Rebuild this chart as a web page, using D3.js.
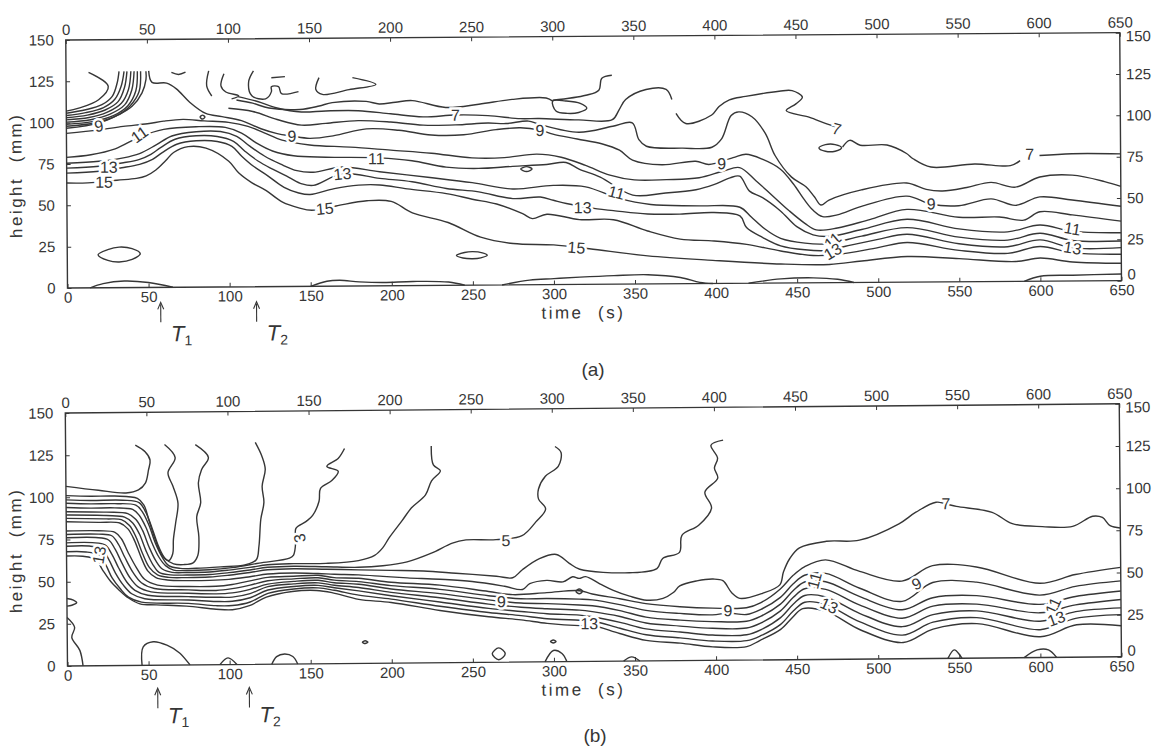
<!DOCTYPE html>
<html>
<head>
<meta charset="utf-8">
<script src="https://cdn.jsdelivr.net/npm/d3@7"></script>
<style>
body{margin:0;background:#fff;}
svg text{font-family:"Liberation Sans",Arial,sans-serif;fill:#363636;}
</style>
</head>
<body>
<script>
// ---------- axes ----------
const xTicks=[0,50,100,150,200,250,300,350,400,450,500,550,600,650];
const yTicks=[0,25,50,75,100,125,150];

// ---------- panel (a) contour lines: [time s, height mm] ----------
const a15=[[0,63.5],[13,63.5],[31,65],[43,66],[49,67.5],[55,71],[61,76.5],[66,81.5],[75,85],[86,84],[100,76],[106,69],[114,63],[123,58],[133,51],[143,47.5],[151,46],[166,48.5],[185,51.5],[200,51],[213,44],[235,38],[255,29],[275,25],[300,24],[322,21.5],[358,17],[398,14],[440,11.5],[470,11],[490,13],[518,15.5],[550,14],[585,12],[600,14],[620,11.5],[650,10.5]];
const a14=[[0,69.5],[20,70.5],[34,72.5],[45,74.5],[53,77.5],[59,81.5],[68,86.5],[80,88.5],[93,88],[102,85],[108,79],[115,73],[124,67],[134,60],[143,56.5],[150,55.5],[165,59],[180,61],[193,61],[210,58.5],[234,55.5],[250,52],[265,49],[281,43],[287,40],[296,42.6],[316,39.2],[337,39],[358,32],[378,27],[399,25.7],[419,23.5],[440,19.4],[460,16.5],[475,17],[500,21],[518,24],[550,19],[580,17],[600,21],[620,17],[650,16]];
const a13=[[0,72.5],[20,73.5],[35,75.5],[45,77.5],[52,80.5],[58,84.5],[67,89.5],[80,91.5],[93,91],[103,88],[110,82],[118,76],[127,71],[137,66],[145,62],[152,61],[170,68],[193,65],[213,62.8],[234,58.6],[254,56.4],[275,52.2],[292,53],[300,51],[308,49],[327,45.6],[337,44.5],[358,42.3],[378,42.1],[399,42.9],[415,40.8],[419,33.7],[429,27.6],[440,22.5],[455,20],[468,19.5],[480,22],[500,26],[518,29],[550,23],[580,21],[600,25],[620,20],[650,20]];
const a12=[[0,75.5],[20,76.5],[35,78.5],[45,81],[55,86],[65,91.5],[80,94],[95,94],[105,91],[113,85],[122,79],[132,74],[142,70],[152,69],[170,72],[193,69],[224,65.3],[250,62],[275,58],[300,60],[320,59],[340,52],[360,48],[390,47],[415,46],[422,40],[430,33],[440,27],[455,24],[468,23.5],[490,28],[518,33],[550,27],[580,25],[600,29],[620,24.5],[650,24]];
const a11=[[0,79],[15,80.5],[30,84],[45,91],[60,95.5],[80,97],[98,96.5],[108,93],[117,87],[127,82],[140,79],[160,78],[193,77.4],[213,75.5],[234,71.5],[254,70.6],[275,71.7],[296,72.7],[308,73.8],[316,69.8],[329,64.8],[349,53.8],[368,54.8],[388,56.8],[399,59.8],[409,63.8],[415,64.8],[421,55.7],[429,51.7],[440,43.6],[450,34],[460,29],[470,28],[490,32],[518,38],[550,32],[580,30],[600,34],[620,30],[650,29]];
const a10=[[0,93.5],[20,95.5],[35,97.5],[50,99],[60,100.5],[72,101.5],[85,100.5],[100,99.5],[112,97],[122,93],[133,88.5],[150,85.5],[175,84],[200,82],[225,80],[250,77],[270,77],[290,79],[305,77],[320,72],[335,66],[350,63],[370,63],[390,64],[405,68],[415,70],[425,62],[435,53],[445,44],[455,36],[462,32],[475,33],[495,38],[518,44],[550,39],[575,39],[590,37],[600,42],[620,40],[650,36]];
const a9=[[51,131],[53,124],[62,123.5],[68,120],[76,112],[86,105],[96,103],[108,100.5],[120,95.5],[130,92.5],[139,91],[150,89.5],[165,91],[185,95],[205,94],[225,91],[245,91],[265,94],[280,95],[292,93.5],[300,91],[315,88],[330,85],[341,81],[349,75],[367,72],[388,74],[396,72],[411,76],[419,78],[429,75],[440,69],[448,60],[455,50],[460,44],[466,40],[475,41],[490,46],[518,52],[533,47],[550,46],[570,50],[585,46],[600,51],[620,49],[650,45]];
const a8=[[100,108],[115,106],[130,101],[145,97.5],[160,98.5],[180,100],[200,99],[220,97],[240,97],[260,98],[271,97.6],[285,99],[291.6,97],[316,92],[337,95.5],[349,97.5],[353,87.3],[357.6,83.3],[380,82],[398,82.4],[404,87.4],[410,101.5],[414.7,103.7],[422.8,100.7],[431,90.6],[437,77],[447,64],[456,58],[461,52],[465,47],[470,50],[490,56],[518,60],[530,56],[540,55],[555,57],[570,60],[585,57],[600,63],[620,64],[640,60],[650,57]];
const a7=[[106,115],[118,112],[130,108],[145,105.5],[160,106],[180,106],[200,104],[220,102],[240,103],[260,102.5],[280,100.5],[291.6,100.5],[316,99.5],[336.7,99.5],[341,105.6],[345,111.6],[357.6,117.6],[370,117.6],[373.5,111.5]];
const a7b=[[376,103],[382,96.9],[398,101.9],[402.6,107],[409,111],[419,113],[439.7,116],[447.7,116.3],[454,112.3],[450,108.3],[444,104.2],[458,100.2],[468.5,96.2],[475,94]];
const a7c=[[478.6,82],[483,86],[489.5,83],[506,83],[518,77.8],[522,74.6],[533,69.5],[560,71.2],[582,70],[588,73]];
const a7d=[[600,76],[620,77],[650,76.7]];
const a6=[[105,113],[115,111],[125,108],[144,107],[156,109],[164,111],[185,111.6],[193,110],[203,111],[213.5,111.9],[234,107.6],[254.5,109.4],[275,112.2],[296,112.9],[300,111]];
// fan of lines in the upper left corner
const f1=[[0,105.7],[12,107.7],[22,110.7],[28.4,115.7],[31.5,123.8],[32.7,130.8]];
const f2=[[0,104.3],[12,106],[23,109],[30,114],[34,122],[35.8,130.8]];
const f3=[[0,103],[13,104.5],[24,107.5],[32,112.5],[36,121],[37.6,130.8]];
const f4=[[0,101.7],[14,103],[25,106],[34,111.5],[38.5,120],[40,130.8]];
const f5=[[0,100.3],[15,101.7],[27,105],[36,110.5],[40.5,119.5],[42,130.8]];
const f6=[[0,99],[16,100.5],[29,104],[38,110],[43,119],[44,130.8]];
const f7=[[0,97.8],[18,99.8],[31,104],[39.5,110],[45,118.5],[46,130.8]];
const f8=[[0,96.6],[20,99.6],[32.4,104.6],[40.6,109.6],[46.8,117.7],[49.3,125.8],[49.3,130.8]];
const f0=[[0,107],[7.7,108.7],[20,113.7],[26,121.8],[13.9,130.3]];
// short pieces near the top
const t1=[[65,130],[69.4,128.7],[73.7,130]];
const t2=[[88,130.7],[86.7,121.6],[89.8,115.5]];
const t3=[[97.4,128.9],[95.5,121.6],[98.5,117.9],[106.4,115.5],[102,113.7]];
const t4=[[115.6,130.6],[112.6,124],[114.5,115.5],[123,113.6],[126.6,117.9],[126.6,120.9],[131,120.9],[132.8,116.7],[143.3,117.8]];
const t5=[[126.6,126.3],[135,126.9]];
const t6=[[156,126.2],[154,119],[158,116],[174.5,118.8],[191,121.8],[176.6,126]];
const t7=[[336.6,126.4],[330.4,124.6],[328.5,117.4],[320.5,114.4],[300,111.5]];
// lines hugging the bottom
const a16a=[[14,0],[22,2.5],[35,4],[50,3],[65,0]];
const a16b=[[150,0],[160,3],[168,3.5],[180,2.5],[195,2],[213,2.5],[235,2],[245,0]];
const a16c=[[268,0],[285,2.8],[300,3.6],[316,4.4],[337,5.2],[358,5.6],[378,3.8],[390,0.7],[398,0]];
const a16d=[[420,0],[440,2.5],[460,3],[475,2],[485,0]];
const a16e=[[590,0],[600,3],[620,3.5],[650,4]];
// closed loops
const aLoops=[
  [[19,20],[25,23],[32,24.5],[40,23.5],[45,20.5],[40,17],[32,15.5],[25,16.5]],
  [[240,18],[245,19.8],[250,20.3],[256,19.5],[259,18],[255,16.5],[250,16],[244,16.5]],
  [[82.5,102.8],[84,104],[85.5,102.8],[84,101.6]],
  [[280,70],[283.6,71.5],[287,70],[283.6,68.5]],
  [[464,81.5],[468,83.5],[474,83.5],[478,81.5],[474,79.5],[468,79.5]],
  [[300,111],[302,105],[309,103.5],[316,104],[321,106.5],[317,109.5],[308,111]]
];
// contour labels: [text, time, height, angle]
const aLabels=[["9",20,98,-10],["11",45,92.6,-35],["9",139,91,0],["7",240,103,0],["9",292,93.5,0],["7",475,93,15],["7",594,77,0],
  ["13",26,73,0],["15",23,64,0],["11",191,77,0],["13",170,68,-5],["15",159,47,-5],["9",404,72.6,0],["11",339,55.5,15],
  ["13",318,46.5,0],["15",314,22.4,5],["9",533,47.4,0],["11",472,25.4,-40],["13",472,19,-30],["11",620,31.7,10],["13",620,20,10]];
const aMarks=[[57.4,"1"],[116.5,"2"]];

// ---------- panel (b) ----------
const b1=[[43,130.6],[49,126.6],[52,121.7],[51,115.8],[49,108],[44.7,104],[37,102.3],[20,104],[0,106.5]];
const b2=[[61,130.8],[67.5,123],[63,114],[66,106],[69,96],[67.5,84.5],[66,74.5],[65.5,66],[63,62],[59,65],[55,74],[51,86],[48,95],[44,99],[30,100.5],[15,100.5],[0,101]];
const b3=[[80,130.6],[88,123],[83.7,115.7],[81.7,108],[83,96],[80.5,87.8],[81.7,76],[81,65],[78,60.5],[72,59.5],[66,60],[61,63],[57,70],[53,81],[49,91],[45,96.5],[35,98],[15,98],[0,98.5]];
const b4=[[117,131.6],[121,123.4],[123,115.7],[121,105.6],[122,96],[120,86],[118.7,70],[117,62],[110,59],[95,58],[80,57.3],[70,57.3],[63,59],[59,64],[55,72],[51,83],[47,91],[43,95],[30,96],[15,96],[0,96.5]];
const b5=[[172,127.5],[168,121.6],[161,117],[168,114],[164,108.6],[157,104],[156,96.4],[152,88],[148,84.5],[141.6,80.4],[141.5,73.5],[140,64.6],[137.5,62.8],[118.7,60],[102,57.5],[88,56.3],[74,56],[66,56.3],[61,59],[57,64],[53,72],[49,82],[45,89],[41,92.5],[30,93.5],[15,93.5],[0,94]];
const b6=[[225.5,128.6],[226.7,117.3],[231,113.8],[225.5,107.9],[221.7,99.6],[213,92],[207,84.3],[199,74.3],[195,68.4],[190,64],[180,61],[160,59.5],[140,59.5],[124,59],[113,57.5],[100,56],[88,55],[74,54.8],[65,55],[59,57],[55,62],[51,70],[47,80],[43,86.5],[38,90],[25,91],[0,91.5]];
const b7=[[301.8,127.6],[305.5,124],[303.7,115.8],[295.7,110],[291.4,102.5],[291.4,96.5],[295.7,90.6],[289.6,83],[281,74.9],[265,72.7],[246.4,72.7],[238,70.9],[225,65],[210,60],[195,57.8],[180,57],[160,57.5],[140,58],[124,57.5],[113,56],[100,54.5],[88,53.5],[74,53.3],[64,53.5],[57,55],[53,60],[49,68],[45,78],[41,84.5],[36,88],[25,89],[0,89.5]];
const b8=[[405.5,130.5],[398,127.6],[402,119.9],[400,114],[402,108],[394,99.8],[398,90.3],[390,80.2],[379.6,74.3],[378,64.2],[367.6,60.7],[364,54.7],[347,52.4],[316.4,54.7],[310,58.3],[302,63.6],[291.6,61.2],[281,54.7],[275,50],[265,51],[240,53],[220,54.5],[200,55],[180,55.5],[160,56],[140,56.5],[124,56],[113,54.5],[100,53],[88,52],[74,51.8],[63,52],[56,53.5],[51,58],[47,66],[43,76],[39,83],[34,86.5],[25,87],[0,87.5]];
const b9=[[650,76.4],[643.7,77.8],[639,82.7],[633,83.5],[620.6,77.6],[602,77.6],[583.4,79.5],[571,86.3],[549,90],[542.6,91.5],[536.5,92.6],[524,86.8],[513.5,80],[489,70.5],[468.7,70],[452,66.3],[446,60],[442,52],[439.7,44.4],[429,39.5],[415,36.6],[410,40],[404.6,47.2],[398.6,48.2],[388.6,47.2],[378,44.3],[374,40.4],[367.6,37],[357.6,36],[347,38.5],[337,42],[328.7,46],[320,50.3],[316,49.3],[312,50.3],[306,47.3],[296,48.3],[285.5,46.4],[281,43],[270,45],[250,48],[230,49.5],[210,50.5],[195,51.5],[180,52.5],[165,53],[155,53.5],[140,54],[124,53.5],[113,52],[100,50.5],[88,50],[74,50],[62,50.5],[55,52],[50,56],[46,64],[42,74],[38,81],[33,84.5],[20,85],[0,85.5]];
const L8=[[0,80],[20,80],[30,79],[34,75],[38,67],[43,58],[48,51],[56,47.5],[75,46.5],[92,46.5],[102,47.5],[113,49.5],[124,51.5],[140,52],[155,52.5],[165,51],[180,50.5],[200,48],[230,46],[260,42],[275,40],[296,41],[316,42],[324,40],[341,37],[357,34],[378,32],[398,31],[419,31],[428,34],[440,42],[448,50],[455,55],[468,59],[489,52],[515,46],[534,55],[561,54],[600,44],[622,49],[650,53]];
const L9=[[0,78],[20,78],[28,77],[32,72],[36,64],[41,55],[46,49],[54,45.5],[75,44.5],[92,44],[102,45],[113,47],[124,49.5],[140,50.5],[155,51],[165,49.5],[180,48.5],[200,46],[230,43.5],[260,39.5],[280,37.5],[296,37.5],[316,37],[324,36.5],[341,33.5],[357,30],[378,28],[398,27],[408,28],[419,27],[428,30],[440,37],[448,45],[455,50],[468,51],[489,42],[515,34],[534,45],[561,45],[600,37],[622,42],[650,45]];
const L10=[[0,76],[18,76],[26,74.5],[30,69],[34,61],[39,52],[44,46.5],[52,43.5],[75,42.5],[92,42],[102,42.5],[113,44.5],[124,47.5],[140,49],[155,49.5],[165,48],[180,47],[200,44],[230,41],[260,37],[280,35],[296,34.5],[316,33.5],[324,33],[341,30],[357,26],[378,24],[398,23],[419,23],[428,26],[440,33],[448,41],[455,46],[468,46],[489,37],[515,29],[534,36],[561,37],[600,31.5],[622,36],[650,39]];
const L11=[[0,73],[16,73],[24,71.5],[28,66],[32,58],[37,49.5],[42,44.5],[50,41.5],[75,40.5],[92,40],[102,40],[113,42],[124,46],[140,47.5],[155,48],[165,46.5],[180,45],[200,42],[230,38.5],[260,34.5],[280,32.5],[296,31.5],[316,30.5],[324,29.5],[341,26.5],[357,22.5],[378,20.5],[398,19],[419,19],[428,22],[440,29],[448,37],[455,42],[468,41.5],[489,32],[515,24],[534,31],[561,32],[600,26.5],[622,31],[650,34]];
const L12=[[0,71],[14,71],[22,69],[26,63],[30,55],[35,47.5],[40,42.5],[48,39.5],[75,38.5],[92,37.5],[102,37.5],[113,39.5],[124,44],[140,46],[155,46.5],[165,45],[180,43],[200,40],[230,36],[260,32],[280,30],[296,28.5],[316,27.5],[324,26.5],[341,23],[357,19],[378,17],[398,15],[419,15],[428,18],[440,25],[448,33],[455,38],[468,37],[489,27],[515,19],[534,26],[561,28],[600,21.5],[622,27],[650,29]];
const L13=[[0,67.7],[12,67.5],[20,65.5],[24,60],[28,52],[33,45.5],[38,40.5],[46,37.5],[75,36.5],[92,35],[102,35],[113,37],[124,42],[140,44.5],[155,45],[165,43.5],[180,40.5],[200,38],[230,33.5],[260,29.5],[280,27.5],[296,25.5],[316,24.5],[324,24],[341,19.5],[357,15.5],[378,13.5],[398,11.5],[419,11.5],[428,14.5],[440,21],[448,29],[455,34],[468,32.5],[489,22],[515,14],[534,21.5],[561,24],[600,16.5],[622,23],[650,25]];
const L14=[[0,65.2],[10,65],[18,63],[22,57],[27,50],[32,45],[38,40],[45,36.5],[55.2,35.8],[73.7,34.9],[92,32.9],[102,32.5],[112.5,34.8],[123,39.8],[139,43],[154,43.5],[164,42],[180,38],[200,36],[230,31],[260,27],[280,25],[296,22.8],[316,21.3],[324,21.3],[340.7,16.4],[357,12.2],[378,10.4],[398,8],[419,8],[427,11.5],[440,18],[447.6,25.3],[453.7,30.2],[468.5,28.3],[489,17.4],[515.5,9.6],[534,17.4],[561,20.4],[600,12.3],[622.5,19.2],[650,18.4]];
// small pieces near the bottom and left edge
const s1=[[0,40],[4,39],[6,37.5],[3,36],[0,35.5]];
const s2=[[0,28.7],[4.6,22.8],[2.8,17],[7.7,9.2],[9.6,0]];
const s3=[[46,0],[46.8,11],[53,13.9],[61.4,11.8],[69.4,7],[75.6,0]];
const s4=[[94,0],[99,4],[104.5,0]];
const s5=[[126,0],[129,4.5],[134,6],[139,4.5],[142,0]];
const s6=[[294.5,0],[299.7,6.7],[305,4.9],[308,0]];
const s7=[[343,0],[348,2.5],[353,0]];
const s8=[[543,0],[547,5],[551.6,0]];
const s9=[[590,0],[598,4.5],[605,4.5],[610,0]];
const bLoops=[
  [[262,5],[266,8.5],[270,5],[266,1.5]],
  [[182,12.6],[183.7,13.4],[185.4,12.6],[183.7,11.8]],
  [[298,12],[299.7,12.9],[301.4,12],[299.7,11.1]],
  [[314,41.6],[316,43],[318,41.6],[316,40.2]]
];
const bLabels=[["3",143.7,74.6,-100],["5",271,72.2,0],["7",542.6,91.8,0],["9",524,44.4,-25],["11",461,46.8,-75],["13",470,32,25],
  ["11",608,30.6,-65],["13",610,23,-20],["9",407.6,29.5,0],["13",20,65.6,-80],["13",322,22.5,0],["9",268,36,0]];
const bMarks=[[55.5,"1"],[112,"2"]];

// ---------- drawing ----------
const svg=d3.select("body").append("svg").attr("width",1158).attr("height",746);
const ink="#363636";
const x=d3.scaleLinear().domain([0,650]).range([0,1054]);

function drawPanel(p){
  const y=d3.scaleLinear().domain([0,150]).range([p.h,0]);
  const g=svg.append("g").attr("transform",`translate(${p.left},${p.top}) rotate(${p.rot},0,${p.h})`);
  const line=d3.line().x(d=>x(d[0])).y(d=>y(d[1])).curve(d3.curveCatmullRom.alpha(0.5));
  const loop=d3.line().x(d=>x(d[0])).y(d=>y(d[1])).curve(d3.curveCatmullRomClosed.alpha(0.5));

  g.selectAll("path.c").data(p.lines).enter().append("path").attr("class","c")
    .attr("d",line).attr("fill","none").attr("stroke",ink).attr("stroke-width",1.4);
  g.selectAll("path.o").data(p.loops).enter().append("path").attr("class","o")
    .attr("d",loop).attr("fill","none").attr("stroke",ink).attr("stroke-width",1.4);

  g.selectAll("text.lab").data(p.labels).enter().append("text").attr("class","lab")
    .attr("transform",d=>`translate(${x(d[1])},${y(d[2])}) rotate(${d[3]})`)
    .attr("text-anchor","middle").attr("dy","0.36em").attr("font-size",16)
    .attr("stroke","#fff").attr("stroke-width",5).attr("paint-order","stroke").text(d=>d[0]);

  // frame
  g.append("rect").attr("width",1054).attr("height",p.h).attr("fill","none").attr("stroke",ink).attr("stroke-width",1.4);

  const style=s=>s.attr("font-size",15).attr("font-family","Liberation Sans, Arial, sans-serif").attr("color",ink)
    .call(a=>a.select(".domain").remove());
  g.append("g").attr("transform",`translate(0,${p.h})`).call(d3.axisBottom(x).tickValues(xTicks).tickSize(-4).tickPadding(4)).call(style);
  g.append("g").call(d3.axisTop(x).tickValues(xTicks).tickSize(-4).tickPadding(5)).call(style);
  g.append("g").call(d3.axisLeft(y).tickValues(yTicks).tickSize(-4).tickPadding(12)).call(style);
  const right=g.append("g").attr("transform","translate(1054,0)").call(d3.axisRight(y).tickValues(yTicks).tickSize(-4).tickPadding(6)).call(style);
  // the right "0" sits a little above its tick, clear of the "650" below it; "150" a little below
  right.selectAll(".tick text").filter(d=>d===0).attr("dy","-0.1em");
  right.selectAll(".tick text").filter(d=>d===150).attr("dy","0.55em");

  // axis titles
  g.append("text").attr("x",x(318)).attr("y",p.h+p.timeY).attr("text-anchor","middle")
    .attr("font-size",17).attr("letter-spacing",2.5).attr("xml:space","preserve").text("time  (s)");
  g.append("text").attr("transform",`translate(-45,${p.h-p.hTitle}) rotate(-90)`).attr("text-anchor","middle")
    .attr("font-size",17).attr("letter-spacing",2.5).attr("xml:space","preserve").text("height  (mm)");

  // T markers
  const m=g.selectAll("g.mk").data(p.marks).enter().append("g").attr("class","mk")
    .attr("transform",d=>`translate(${x(d[0])},${p.h})`);
  m.append("line").attr("y1",p.arrow[0]+2).attr("y2",p.arrow[1]).attr("stroke",ink).attr("stroke-width",1.1);
  m.append("path").attr("d",`M-3,${p.arrow[0]+7}L0,${p.arrow[0]}L3,${p.arrow[0]+7}`).attr("fill","none").attr("stroke",ink).attr("stroke-width",1.1);
  const tt=m.append("text").attr("x",10).attr("y",p.tBase).attr("font-family","Liberation Serif, serif").attr("font-size",22);
  tt.append("tspan").attr("font-style","italic").text("T");
  tt.append("tspan").attr("font-size",14).attr("dy",4).text(d=>d[1]);
}

drawPanel({left:67.5,top:40,h:248,rot:-0.4,timeY:34,hTitle:113,arrow:[15,35],tBase:54,
  lines:[a15,a14,a13,a12,a11,a10,a9,a8,a7,a7b,a7c,a7d,a6,f0,f1,f2,f3,f4,f5,f6,f7,f8,t1,t2,t3,t4,t5,t6,t7,a16a,a16b,a16c,a16d,a16e],
  loops:aLoops,labels:aLabels,marks:aMarks});
drawPanel({left:67.5,top:413,h:253,rot:-0.5,timeY:34,hTitle:116,arrow:[23,43],tBase:58,
  lines:[b1,b2,b3,b4,b5,b6,b7,b8,b9,L8,L9,L10,L11,L12,L13,L14,s1,s2,s3,s4,s5,s6,s7,s8,s9],
  loops:bLoops,labels:bLabels,marks:bMarks});

// panel captions
svg.append("text").attr("x",593).attr("y",376).attr("text-anchor","middle").attr("font-size",19).text("(a)");
svg.append("text").attr("x",595).attr("y",742).attr("text-anchor","middle").attr("font-size",19).text("(b)");
</script>
</body>
</html>
